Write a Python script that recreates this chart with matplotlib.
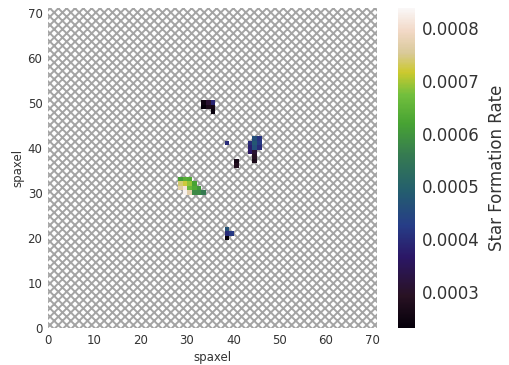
import numpy as np
import matplotlib
matplotlib.use("Agg")
import matplotlib.pyplot as plt
from matplotlib.colors import LinearSegmentedColormap

# spaxels with a measured star formation rate (row = y, col = x)
rows = [50, 50, 50, 49, 49, 49, 48,
        41,
        42, 42, 41, 41, 41, 40, 40, 40, 39, 39, 38, 37, 37, 36,
        33, 33, 33, 32, 32, 32, 32, 31, 31, 31, 31, 31, 30, 30, 30, 30, 30,
        22, 21, 21, 20]
cols = [33, 34, 35, 33, 34, 35, 35,
        38,
        45, 44, 43, 44, 45, 43, 44, 45, 43, 44, 44, 44, 40, 40,
        28, 29, 30, 28, 29, 30, 31, 28, 29, 30, 31, 32, 29, 30, 31, 32, 33,
        38, 38, 39, 38]
sfr = [0.00025, 0.00031, 0.00039, 0.00023, 0.00027, 0.00026, 0.00024,
       0.00040,
       0.00041, 0.00046, 0.00040, 0.00048, 0.00042, 0.00038, 0.00046,
       0.00040, 0.00036, 0.00031, 0.00029, 0.00027, 0.00026, 0.00028,
       0.00061, 0.00064, 0.00063, 0.00074, 0.00072, 0.00069, 0.00062,
       0.00076, 0.00081, 0.00066, 0.00063, 0.00060, 0.00083, 0.00077,
       0.00058, 0.00058, 0.00056,
       0.00047, 0.00040, 0.00042, 0.00023]

nx, ny = 71, 71
cbar_ticks = [0.0003, 0.0004, 0.0005, 0.0006, 0.0007, 0.0008]

grid = np.full((ny, nx), np.nan)
grid[rows, cols] = sfr
grid = np.ma.masked_invalid(grid)

cmap = LinearSegmentedColormap.from_list(
    "sfr",
    [
        (0.00, (0.02, 0.00, 0.04)),
        (0.10, (0.16, 0.07, 0.14)),
        (0.22, (0.17, 0.09, 0.40)),
        (0.32, (0.15, 0.24, 0.53)),
        (0.43, (0.14, 0.37, 0.43)),
        (0.54, (0.21, 0.48, 0.32)),
        (0.64, (0.28, 0.64, 0.20)),
        (0.73, (0.45, 0.75, 0.24)),
        (0.80, (0.80, 0.79, 0.18)),
        (0.86, (0.85, 0.79, 0.60)),
        (0.93, (0.95, 0.85, 0.78)),
        (1.00, (0.98, 0.97, 0.97)),
    ],
)

plt.rcParams["hatch.color"] = "#a4a4a4"
plt.rcParams["hatch.linewidth"] = 1.4
text_color = "#333333"

fig = plt.figure(figsize=(5.09, 3.65), dpi=100)
ax = fig.add_axes([0.0943, 0.1014, 0.6464, 0.8767])
cax = fig.add_axes([0.782, 0.1014, 0.0334, 0.8767])

ax.patch.set_facecolor("white")
ax.patch.set_hatch("xxxx")
ax.patch.set_edgecolor("#a4a4a4")

im = ax.imshow(
    grid,
    origin="lower",
    cmap=cmap,
    vmin=0.000232,
    vmax=0.000838,
    extent=(0, nx, -0.5, ny - 0.5),
    aspect="auto",
    interpolation="nearest"
)
ax.set_xlim(0, nx)
ax.set_ylim(0, ny)

for side in ax.spines.values():
    side.set_visible(False)

ax.set_xticks(range(0, 71, 10))
ax.set_yticks(range(0, 71, 10))
ax.tick_params(length=0, labelsize=8.5, colors=text_color, pad=4)
ax.set_xlabel("spaxel", fontsize=8.5, color=text_color, labelpad=3)
ax.set_ylabel("spaxel", fontsize=8.5, color=text_color, labelpad=2)

cbar = fig.colorbar(im, cax=cax, ticks=cbar_ticks)
cbar.outline.set_visible(False)
cbar.ax.set_yticklabels([f"{t:.4f}" for t in cbar_ticks])
cbar.ax.tick_params(length=0, labelsize=12, colors=text_color, pad=5)
cbar.set_label("Star Formation Rate", fontsize=12, color=text_color,
               labelpad=6)

fig.savefig("out.png", dpi=100)
